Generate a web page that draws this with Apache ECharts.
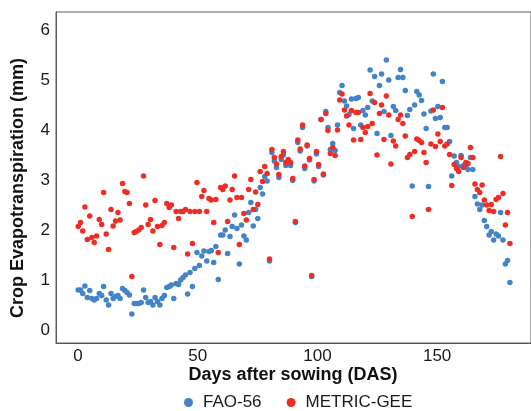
<!DOCTYPE html>
<html>
<head>
<meta charset="utf-8">
<script src="https://cdn.jsdelivr.net/npm/echarts@6/dist/echarts.min.js"></script>
<style>html,body{margin:0;padding:0;background:#fff}#c{width:531px;height:411px}</style>
</head>
<body>
<div id="c"></div>
<script>
const days = [
0.1,1.1,2,2.9,3.9,4.9,5.8,6.8,7.8,8.9,9.9,10.7,11.8,12.8,13.8,14.7,15.7,16.7,17.6,18.6,19.6,20.5,21.5,22.5,23.5,24.4,25.4,
26.4,27.4,28.3,29.3,30.3,31.3,32.2,33.2,34.2,35.1,36.1,37.1,38.1,39,40,41,42,42.9,43.9,44.9,45.8,46.8,47.8,48.8,49.7,50.7,51.7,52.6,
53.8,54.7,55.7,56.7,57.6,58.6,59.6,60.5,61.5,62.5,63.5,64.4,65.4,66.4,67.4,68.3,69.3,70.3,71.3,72.2,73.2,74.2,75.1,76.1,77.1,78,79,80,
81,82,82.9,83.9,84.9,85.8,86.8,87.8,88.8,89.7,90.8,91.8,92.8,93.8,94.7,95.7,96.7,97.6,98.6,99.6,100.5,101.5,102.5,103.5,104.4,
105.4,106.4,107.4,108.4,109.3,110.3,111.3,112.2,113.2,114.2,115.1,116.1,117.1,118.1,119,120,121,122,122.9,123.9,124.9,125.9,126.8,127.8,128.8,129.8,130.7,131.7,132.7,133.7,
134.7,135.7,136.7,137.6,138.6,139.6,140.6,141.5,142.5,143.5,144.5,145.4,146.4,147.4,148.4,149.3,150.3,151.3,152.2,153.2,154.2,155.2,156.1,157.1,158.1,159,160,161,
162,162.9,163.9,164.9,165.8,166.8,167.8,168.8,169.7,170.7,171.7,172.6,173.6,174.6,175.6,176.5,177.5,178.5,179.4,180.4
];
const fao56 = [
0.80,0.80,0.73,0.88,0.65,0.79,0.63,0.60,0.63,0.73,0.69,0.87,0.60,0.50,0.73,0.63,0.67,0.69,0.63,0.83,0.79,0.75,0.70,0.32,0.53,0.53,0.53,
0.55,0.80,0.65,0.55,0.57,0.50,0.65,0.57,0.50,0.63,0.69,0.85,0.87,0.90,0.63,0.93,0.91,1.00,1.05,1.10,0.72,1.15,0.87,1.23,1.55,1.29,1.48,1.58,
1.38,1.57,1.59,1.35,1.67,1.01,1.90,1.90,2.00,1.53,1.87,2.07,2.30,2.03,1.32,2.10,1.88,1.80,2.35,2.55,2.08,2.41,2.23,2.85,2.72,3.07,2.98,1.38,
3.55,3.38,3.25,3.05,3.41,3.50,3.29,3.35,3.29,2.99,2.15,3.75,3.58,4.05,3.23,3.68,3.40,1.07,2.98,3.52,3.27,4.21,3.10,4.37,4.05,
3.61,3.73,3.59,4.10,4.75,4.89,4.58,4.48,4.31,4.62,4.03,4.63,4.65,4.10,4.39,4.30,4.45,5.20,4.58,5.07,3.93,4.89,5.12,4.37,5.40,5.00,3.89,4.47,4.39,5.05,
5.21,5.05,4.79,4.29,4.41,2.88,4.50,4.77,4.70,4.59,4.32,4.03,2.87,4.38,5.12,4.23,4.47,4.25,4.97,4.05,4.05,3.77,3.08,3.48,3.35,3.27,3.49,3.29,
3.28,3.21,3.45,3.21,2.67,2.52,2.41,2.50,2.19,2.07,1.90,1.97,1.80,1.92,1.88,2.35,1.80,1.32,1.39,0.95
];
const metricGee = [
2.07,2.15,1.98,2.46,1.81,2.28,1.85,1.75,1.88,2.21,2.11,2.75,1.92,1.61,2.41,2.08,2.18,2.35,2.20,2.93,2.77,2.75,2.53,1.07,1.95,1.97,2.00,
2.05,3.08,2.50,2.11,2.21,1.98,2.59,2.07,1.71,2.09,2.15,2.53,2.45,2.50,1.65,2.37,2.23,2.37,2.37,2.41,1.52,2.37,1.73,2.37,2.95,2.37,2.67,2.79,
2.37,2.63,2.60,2.15,2.61,1.55,2.85,2.81,2.88,2.17,2.60,2.81,3.08,2.65,1.71,2.65,2.33,2.20,2.81,3.01,2.41,2.76,2.51,3.17,2.97,3.27,3.13,1.42,
3.61,3.45,3.32,3.11,3.47,3.57,3.35,3.41,3.35,3.03,2.17,3.80,3.62,4.10,3.28,3.70,3.43,1.09,3.01,3.57,3.31,4.21,3.12,4.33,3.99,
3.53,3.65,3.49,4.00,4.60,4.72,4.40,4.28,4.10,4.39,3.80,4.35,4.35,3.81,4.05,3.95,4.07,4.73,4.13,4.55,3.50,4.33,4.50,3.81,4.68,4.30,3.32,3.78,3.68,4.21,
4.30,4.13,3.88,3.45,3.51,2.27,3.57,3.82,3.79,3.75,3.55,3.35,2.41,3.72,4.40,3.67,3.92,3.77,4.45,3.68,3.72,3.51,2.89,3.31,3.23,3.17,3.45,3.25,
3.35,3.33,3.65,3.45,2.92,2.81,2.75,2.90,2.60,2.50,2.39,2.51,2.37,2.61,2.65,3.47,2.73,2.10,2.35,1.73
];
const xTicks = [0, 50, 100, 150];
const yTicks = [0, 1, 2, 3, 4, 5, 6];
const seriesNames = ['FAO-56', 'METRIC-GEE'];
const colors = ['#4383c8', '#ee2e24'];

const FONT = '"Liberation Sans", Arial, sans-serif';
const chart = echarts.init(document.getElementById('c'), null, {renderer: 'canvas'});
const pairs = arr => days.map((d, i) => [d, arr[i]]);
chart.setOption({
  animation: false,
  grid: {left: 56, top: 12, right: -1, bottom: 68, show: true, borderColor: '#5a5a5a', borderWidth: 1, backgroundColor: 'transparent'},
  xAxis: {
    type: 'value', min: -9.17, max: 189.2,
    axisLine: {show: true, onZero: false, lineStyle: {color: '#5a5a5a', width: 1}},
    axisTick: {show: false}, splitLine: {show: false},
    axisLabel: {customValues: xTicks, fontSize: 17, color: '#1a1a1a', fontFamily: FONT, margin: 5}
  },
  yAxis: {
    type: 'value', min: -0.26, max: 6.36,
    axisLine: {show: true, onZero: false, lineStyle: {color: '#5a5a5a', width: 1}},
    axisTick: {show: false}, splitLine: {show: false},
    axisLabel: {customValues: yTicks, fontSize: 17, color: '#1a1a1a', fontFamily: FONT, margin: 6}
  },
  legend: {
    data: seriesNames, left: 184, top: 394, padding: 0, icon: 'circle', itemWidth: 9, itemHeight: 9, itemGap: 25,
    textStyle: {fontSize: 17, color: '#1a1a1a', fontFamily: FONT, padding: [0, 0, 0, 5]}
  },
  graphic: [
    {type: 'text', x: 293, y: 375, style: {text: 'Days after sowing (DAS)', font: 'bold 18px ' + FONT, fill: '#111', textAlign: 'center', textVerticalAlign: 'middle'}},
    {type: 'text', x: 18, y: 188, rotation: Math.PI / 2, style: {text: 'Crop Evapotranspiration (mm)', font: 'bold 18px ' + FONT, fill: '#111', textAlign: 'center', textVerticalAlign: 'middle'}}
  ],
  series: [
    {name: seriesNames[0], type: 'scatter', symbolSize: 5.5, itemStyle: {color: colors[0], opacity: 1}, data: pairs(fao56)},
    {name: seriesNames[1], type: 'scatter', symbolSize: 5.5, itemStyle: {color: colors[1], opacity: 1}, data: pairs(metricGee)}
  ]
});
</script>
</body>
</html>
